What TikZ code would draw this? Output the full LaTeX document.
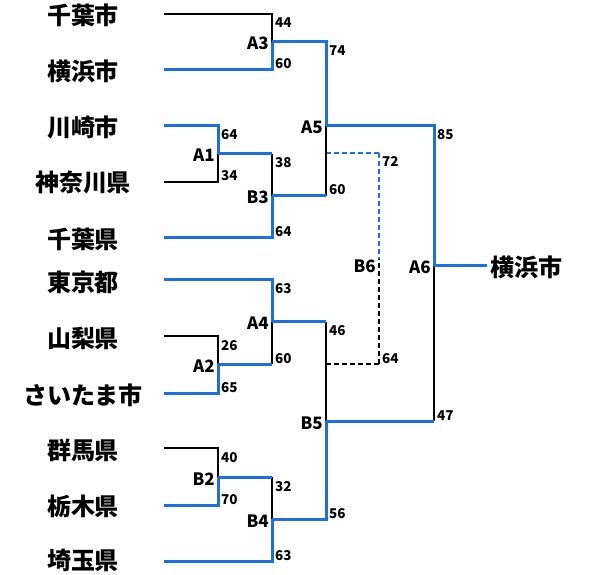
\documentclass[tikz,border=0pt]{standalone}
\usepackage{fontspec}
\setmainfont{Noto Sans CJK JP}
\definecolor{winblue}{RGB}{26,110,232}
\begin{document}
\begin{tikzpicture}[x=1pt,y=-1pt,
  win/.style={draw=winblue,line width=3pt},
  lose/.style={draw=black,line width=2pt},
  windash/.style={draw=winblue,line width=2.4pt,dash pattern=on 5pt off 3pt},
  losedash/.style={draw=black,line width=2.4pt,dash pattern=on 5pt off 3pt},
  thinwindash/.style={draw=winblue,line width=1.3pt,dash pattern=on 5pt off 3pt},
  thinlosedash/.style={draw=black,line width=1.3pt,dash pattern=on 5pt off 3pt},
  team/.style={font=\fontsize{24}{24}\selectfont\bfseries, inner sep=0pt, anchor=base},
  match/.style={font=\fontsize{17}{17}\selectfont\bfseries, inner sep=0pt, anchor=base east, xshift=-3pt, yshift=-8pt},
  scoretop/.style={font=\fontsize{13.5}{13.5}\selectfont\bfseries, inner sep=0pt, anchor=base west, xshift=3pt, yshift=-14pt},
  scorebot/.style={font=\fontsize{13.5}{13.5}\selectfont\bfseries, inner sep=0pt, anchor=base west, xshift=3pt, yshift=1pt}]
\useasboundingbox (0,0) rectangle (590,575);

% team names
\node[team] (t1) at (83,25) {千葉市};
\node[team] (t2) at (83,81) {横浜市};
\node[team] (t3) at (83,137) {川崎市};
\node[team] (t4) at (83,192) {神奈川県};
\node[team] (t5) at (83,249) {千葉県};
\node[team] (t6) at (83,292) {東京都};
\node[team] (t7) at (83,348) {山梨県};
\node[team] (t8) at (83,404) {さいたま市};
\node[team] (t9) at (83,459) {群馬県};
\node[team] (t10) at (83,515) {栃木県};
\node[team] (t11) at (83,569) {埼玉県};

% leaf line starts
\coordinate (L1) at (164,14);
\coordinate (L2) at (164,70);
\coordinate (L3) at (164,126);
\coordinate (L4) at (164,182);
\coordinate (L5) at (164,238);
\coordinate (L6) at (164,280);
\coordinate (L7) at (164,336);
\coordinate (L8) at (164,393);
\coordinate (L9) at (164,448);
\coordinate (L10) at (164,505);
\coordinate (L11) at (164,561);

% match junctions
\coordinate (A1) at (218,154);
\coordinate (A2) at (218,364);
\coordinate (B2) at (218,477);
\coordinate (A3) at (272,42);
\coordinate (B3) at (272,196);
\coordinate (A4) at (272,322);
\coordinate (B4) at (272,519);
\coordinate (A5) at (326,126);
\coordinate (B5) at (326,421);
\coordinate (A6) at (434,266);
\coordinate (B6) at (379,259);
\coordinate (B6t) at (326,153);
\coordinate (B6b) at (326,364);
\coordinate (W) at (487,266);

% dashed side match B6
\draw[windash] (B6t) -- (B6t -| B6);
\draw[thinwindash] (B6t -| B6) -- (B6);
\draw[losedash] (B6b) -- (B6b -| B6);
\draw[thinlosedash] (B6b -| B6) -- (B6);

% losing branches
\draw[lose] (L1) -| (A3);
\draw[lose] (L4) -| (A1);
\draw[lose] (L7) -| (A2);
\draw[lose] (L9) -| (B2);
\draw[lose] (A1 -| B3) -- (B3);
\draw[lose] (A2 -| A4) -- (A4);
\draw[lose] (B2 -| B4) -- (B4);
\draw[lose] (B3 -| A5) -- (A5);
\draw[lose] (A4 -| B5) -- (B5);
\draw[lose] (B5 -| A6) -- (A6);

% winning branches
\draw[win] (L2) -| (A3);
\draw[win] (L3) -| (A1);
\draw[win] (L5) -| (B3);
\draw[win] (L6) -| (A4);
\draw[win] (L8) -| (A2);
\draw[win] (L10) -| (B2);
\draw[win] (L11) -| (B4);
\draw[win] (A1) -- (A1 -| B3);
\draw[win] (A2) -- (A2 -| A4);
\draw[win] (B2) -- (B2 -| B4);
\draw[win] (B3) -- (B3 -| A5);
\draw[win] (A4) -- (A4 -| B5);
\draw[win] (A3) -| (A5);
\draw[win] (B4) -| (B5);
\draw[win] (A5) -| (A6);
\draw[win] (B5) -- (B5 -| A6);
\draw[win] (A6) -- (W);

% champion
\node[team, anchor=base west] (champ) at (490,277) {横浜市};

% match labels
\node[match] (mA1) at (A1) {A1};
\node[match] (mA2) at (A2) {A2};
\node[match] (mB2) at (B2) {B2};
\node[match] (mA3) at (A3) {A3};
\node[match] (mB3) at (B3) {B3};
\node[match] (mA4) at (A4) {A4};
\node[match] (mB4) at (B4) {B4};
\node[match] (mA5) at (A5) {A5};
\node[match] (mB5) at (B5) {B5};
\node[match] (mA6) at (A6) {A6};
\node[match, yshift=-6pt] (mB6) at (B6) {B6};

% scores
\node[scoretop] (sA3t) at (A3 |- L1) {44};
\node[scorebot] (sA3b) at (A3 |- L2) {60};
\node[scoretop] (sA1t) at (A1 |- L3) {64};
\node[scorebot] (sA1b) at (A1 |- L4) {34};
\node[scoretop] (sB3t) at (B3 |- A1) {38};
\node[scorebot] (sB3b) at (B3 |- L5) {64};
\node[scoretop] (sA5t) at (A5 |- A3) {74};
\node[scorebot] (sA5b) at (A5 |- B3) {60};
\node[scoretop] (sA6t) at (A6 |- A5) {85};
\node[scorebot] (sA6b) at (A6 |- B5) {47};
\node[scoretop] (sB6t) at (B6 |- B6t) {72};
\node[scorebot] (sB6b) at (B6 |- B6b) {64};
\node[scoretop] (sA4t) at (A4 |- L6) {63};
\node[scorebot] (sA4b) at (A4 |- A2) {60};
\node[scoretop] (sA2t) at (A2 |- L7) {26};
\node[scorebot] (sA2b) at (A2 |- L8) {65};
\node[scoretop] (sB5t) at (B5 |- A4) {46};
\node[scorebot] (sB5b) at (B5 |- B4) {56};
\node[scoretop] (sB2t) at (B2 |- L9) {40};
\node[scorebot] (sB2b) at (B2 |- L10) {70};
\node[scoretop] (sB4t) at (B4 |- B2) {32};
\node[scorebot] (sB4b) at (B4 |- L11) {63};
\end{tikzpicture}
\end{document}
